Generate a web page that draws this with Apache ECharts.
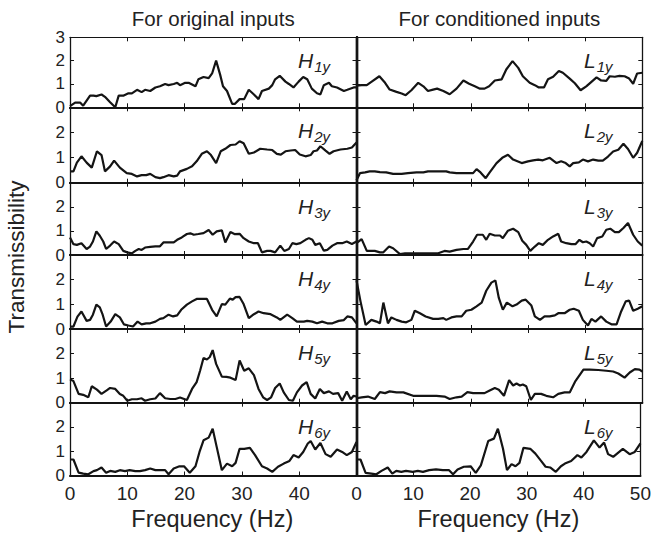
<!DOCTYPE html>
<html><head><meta charset="utf-8">
<script src="https://cdn.jsdelivr.net/npm/echarts@6/dist/echarts.min.js"></script>
<style>html,body{margin:0;padding:0;background:#fff}#c{width:654px;height:536px}</style>
</head><body><div id="c"></div>
<script>
// ---------- DATA (frequency in Hz, transmissibility) ----------
const xTicks = [0, 10, 20, 30, 40, 50];
const yTicks = [0, 1, 2, 3];
const colTitles = ['For original inputs', 'For conditioned inputs'];
const xTitle = 'Frequency (Hz)';
const yTitle = 'Transmissibility';

const h1F = [0,0.9,1.8,2.3,3.5,4.1,4.6,5.5,6.1,7.0,7.9,8.5,9.3,10.2,10.8,11.7,12.5,13.1,14,14.9,15.7,16.6,17.2,18.1,18.7,19.2,20.1,20.7,21.9,22.4,23.3,24.2,24.8,25.5,26.2,26.7,27.4,28.3,28.8,29.6,30.4,31.2,32.1,32.9,33.5,34.7,35.3,35.8,36.6,37.6,38.2,39,39.9,40.7,41.4,42.2,43.1,43.7,44.3,45.2,45.7,46.6,47.8,48.4,49.5,50];
const h1V = [0.05,0.2,0.2,0.07,0.5,0.5,0.48,0.55,0.45,0.22,0,0.5,0.5,0.6,0.6,0.75,0.65,0.75,0.7,0.85,0.9,1.0,0.95,1.0,1.05,0.95,1.05,1.05,0.9,1.2,1.3,1.25,1.45,2.0,1.4,0.9,0.7,0.15,0.15,0.35,0.35,0.75,0.55,0.35,0.7,0.8,0.95,1.2,1.35,1.1,1.0,0.85,1.1,1.3,1.2,0.8,0.6,0.55,0.95,1.05,0.9,0.85,0.7,0.75,0.85,0.85];

const h2F = [0,0.6,1.2,2.0,2.9,3.8,4.7,5.5,6.1,7.0,7.7,8.7,9.9,10.8,11.7,12.5,13.3,14.0,14.9,15.7,16.3,17.2,18.1,18.7,19.2,20.4,21.3,22.1,23.0,23.9,24.6,25.5,26.3,27.1,28.0,28.9,29.6,30.3,31.2,32.1,33.2,34.4,35.3,36.1,36.8,37.6,38.5,39.3,40.1,41.1,42.0,42.5,43.1,43.7,44.6,45.3,46.0,47.2,48.4,49.2,50];
const h2V = [0.45,0.45,0.8,1.05,0.8,0.6,1.25,1.1,0.45,0.65,0.88,0.6,0.38,0.35,0.25,0.3,0.3,0.35,0.22,0.18,0.22,0.3,0.25,0.28,0.45,0.55,0.65,0.85,1.15,1.25,1.1,0.78,1.25,1.35,1.5,1.52,1.65,1.57,1.15,1.2,1.35,1.32,1.3,1.15,1.12,1.25,1.28,1.3,1.12,1.05,1.1,1.25,1.28,1.45,1.28,1.15,1.25,1.32,1.35,1.4,1.6];

const h3F = [0,0.6,1.2,2.0,2.9,3.5,4.0,4.6,5.2,5.8,6.3,7.0,7.7,8.5,9.3,10.0,10.8,11.4,12.0,12.5,13.1,14.0,14.9,15.7,16.3,17.2,18.1,18.7,19.5,20.4,21.0,21.6,22.4,23.3,24.2,24.9,25.6,26.5,27.1,28.0,28.7,29.6,30.3,31.2,32.1,32.8,33.5,34.4,35.0,35.8,36.7,37.4,38.2,38.8,39.5,40.2,41.1,41.7,42.3,42.8,43.6,44.3,44.9,45.8,46.6,47.5,48.3,49.2,50];
const h3V = [0.73,0.45,0.42,0.49,0.25,0.35,0.56,0.98,0.8,0.56,0.25,0.39,0.56,0.45,0.17,0.11,0.07,0.17,0.25,0.21,0.31,0.34,0.36,0.36,0.52,0.52,0.52,0.63,0.73,0.87,0.9,0.84,0.87,0.91,1.04,0.84,0.98,1.02,0.52,0.95,0.87,0.88,0.7,0.56,0.49,0.49,0.11,0.17,0.17,0.11,0.39,0.17,0.25,0.49,0.45,0.49,0.63,0.7,0.63,0.42,0.49,0.18,0.21,0.39,0.49,0.49,0.56,0.46,0.56];

const h4F = [0,0.6,1.3,2.0,2.9,3.5,4.0,4.6,5.2,5.7,6.3,7.1,7.9,8.7,9.4,10.2,11.0,11.8,12.5,13.3,14.0,14.9,15.7,16.3,17.2,18.0,18.7,19.4,20.4,21.3,22.1,23.0,23.9,24.8,25.6,26.5,27.1,27.9,28.4,28.9,29.6,30.3,31.2,32.1,32.9,33.8,35.0,36.1,36.7,37.9,38.8,39.6,40.8,41.4,42.3,43.1,44.0,44.9,45.8,46.9,47.8,48.4,49.2,50];
const h4V = [0.1,0.1,0.5,0.71,0.33,0.37,0.58,0.99,0.88,0.58,0.1,0.3,0.6,0.47,0.19,0.14,0.1,0.3,0.19,0.23,0.23,0.3,0.41,0.44,0.58,0.51,0.55,0.78,0.99,1.12,1.22,1.22,1.22,0.78,0.51,1.01,0.99,1.23,1.19,1.29,1.3,1.01,0.44,0.6,0.71,0.64,0.6,0.47,0.37,0.58,0.44,0.3,0.3,0.33,0.3,0.23,0.3,0.23,0.23,0.33,0.36,0.51,0.47,0.23];

const h5F = [0,0.6,1.5,2.3,3.2,3.8,4.7,5.5,6.4,7.0,7.9,8.7,9.3,10.0,10.8,11.7,12.5,13.1,14.0,14.9,15.7,16.6,17.5,18.4,19.2,20.4,21.3,22.1,22.7,23.3,23.9,24.4,24.9,25.5,26.5,27.3,28.0,28.9,29.6,30.4,31.2,32.1,32.9,33.7,34.4,35.1,35.8,36.6,37.3,38.2,38.9,39.6,40.5,41.3,42.0,42.8,43.6,44.3,45.2,45.9,46.8,47.5,48.3,49.0,49.5,50];
const h5V = [0.95,0.88,0.36,0.32,0.22,0.67,0.53,0.36,0.5,0.6,0.56,0.35,0.28,0.08,0.14,0.14,0.18,0.08,0.14,0.17,0.39,0.18,0.15,0.15,0.21,0.11,0.56,0.84,1.3,1.82,1.76,1.86,2.14,1.58,1.06,1.05,1.02,0.92,1.72,1.3,1.4,1.12,0.56,0.22,0.11,0.22,0.6,0.78,0.42,0.11,0.08,0.42,0.7,0.84,0.36,0.17,0.56,0.39,0.46,0.36,0.39,0.08,0.46,0.14,0.28,0.25];

const h6F = [0,0.6,1.5,2.3,3.2,4.1,4.7,5.5,6.3,7.0,7.9,8.7,9.6,10.4,11.4,12.2,13.1,14.0,14.9,15.7,16.6,17.2,18.1,19.1,19.9,20.9,21.9,22.6,23.3,24.2,24.9,25.6,26.5,27.4,28.3,28.9,29.6,30.4,31.4,32.3,33.5,34.4,35.3,36.3,37.3,38.3,39.0,39.9,40.7,41.5,42.0,42.8,43.7,44.6,45.5,46.6,47.5,48.3,49.2,50];
const h6V = [0.66,0.66,0.12,0.08,0.05,0.18,0.22,0.33,0.11,0.19,0.15,0.22,0.18,0.22,0.18,0.18,0.22,0.29,0.22,0.22,0.22,0.05,0.29,0.38,0.38,0.11,0.38,0.97,1.45,1.56,1.93,1.18,0.22,0.49,0.38,0.52,1.1,1.1,1.14,0.84,0.38,0.29,0.15,0.36,0.49,0.6,0.84,0.74,0.97,1.32,1.42,1.07,1.34,0.88,0.77,1.07,0.97,0.84,0.97,1.38];

const l1F = [0,0.9,1.8,2.6,4.0,5.0,5.8,7.0,7.9,8.6,9.6,10.8,11.7,12.5,13.4,14.1,15.2,16.3,17.5,18.7,19.7,20.7,21.6,22.4,23.2,24.2,25.4,26.2,27.3,28.3,29.1,30.3,31.2,31.9,32.8,33.5,34.4,35.4,36.1,37.3,38.2,39.2,40.2,41.1,42.0,42.8,43.7,44.3,45.2,46.0,46.9,47.7,48.4,49.1,50];
const l1V = [0.93,0.95,0.95,1.09,1.33,1.05,0.76,0.66,0.59,0.52,0.73,1.05,0.9,0.7,0.76,0.8,0.7,0.56,0.8,1.15,1.01,0.9,0.8,0.8,0.9,1.15,1.2,1.62,1.98,1.69,1.33,1.05,0.95,0.85,0.85,1.2,1.31,1.56,1.48,1.23,1.03,0.73,0.9,1.09,1.28,1.15,1.13,1.33,1.31,1.35,1.33,1.23,1.01,1.45,1.48];

const l2F = [0,0.6,1.5,2.3,3.2,4.1,5.2,6.4,7.9,9.0,10.5,11.7,12.5,14.0,15.7,16.3,17.5,18.9,20.4,21.0,21.7,22.6,23.3,24.5,25.5,26.5,27.4,28.9,30.0,30.9,31.8,32.6,33.8,35.0,35.8,36.6,37.3,37.9,38.9,39.6,40.5,41.4,42.3,43.1,44.0,44.9,45.8,46.7,47.5,48.4,49.1,50];
const l2V = [0.1,0.38,0.41,0.45,0.45,0.42,0.41,0.35,0.35,0.38,0.41,0.41,0.45,0.45,0.45,0.41,0.38,0.38,0.38,0.54,0.41,0.18,0.41,0.78,0.99,1.11,0.92,0.78,0.85,0.89,0.92,0.89,0.99,0.78,0.85,0.78,0.65,0.78,0.81,0.92,0.85,0.92,0.88,0.88,1.04,1.24,1.31,1.55,1.34,0.99,1.19,1.66];

const l3F = [0,0.9,1.8,3.2,4.1,4.7,5.7,6.4,7.6,8.5,10.5,12.2,14.3,15.4,16.3,17.5,18.7,19.5,20.4,21.1,22.1,22.7,23.3,24.2,25.1,25.6,26.5,27.4,28.3,29.0,29.7,30.4,31.2,31.9,32.6,33.5,34.4,35.3,35.8,36.7,37.6,38.3,39.0,39.6,40.2,40.8,41.4,42.1,43.0,43.7,44.4,45.2,45.9,46.7,47.5,48.4,49.2,50];
const l3V = [0.49,0.66,0.17,0.17,0.11,0.11,0.35,0.28,0.04,0.07,0.07,0.07,0.07,0.17,0.14,0.21,0.25,0.25,0.56,0.84,0.84,0.63,0.88,0.81,0.81,0.7,1.01,1.09,0.95,0.59,0.42,0.17,0.35,0.49,0.42,0.63,0.77,0.88,0.56,0.49,0.45,0.45,0.63,0.53,0.56,0.49,0.35,0.7,0.77,1.05,1.09,0.95,0.95,1.12,1.33,0.84,0.56,0.39];

const l4F = [0,0.7,1.6,2.6,3.5,4.1,4.7,5.5,6.1,7.0,7.9,8.7,9.6,10.2,11.1,12.1,13.4,14.3,15.2,15.7,16.6,17.5,18.4,19.2,20.1,21.0,21.9,22.7,23.6,24.3,24.9,25.6,26.3,27.3,28.0,28.9,29.6,30.6,31.2,32.1,32.9,33.8,34.7,35.3,36.4,37.3,38.0,38.9,39.6,40.5,41.1,41.8,42.8,43.7,44.6,45.5,46.3,47.1,47.7,48.4,49.2,50];
const l4V = [1.97,1.12,0.16,0.37,0.3,0.23,1.07,0.23,0.47,0.37,0.3,0.27,0.37,0.74,0.64,0.51,0.41,0.41,0.44,0.37,0.47,0.51,0.51,0.74,0.78,0.92,1.07,1.55,1.88,1.97,1.26,0.78,1.07,0.92,0.99,1.15,1.19,0.95,0.51,0.37,0.51,0.51,0.55,0.64,0.64,0.78,0.82,0.74,0.37,0.14,0.41,0.3,0.51,0.3,0.19,0.19,0.71,1.12,1.15,0.74,0.82,0.92];

const l5F = [0,0.9,2.0,3.2,4.1,5.0,5.8,7.0,8.2,9.9,11.7,14.0,15.4,16.3,17.5,18.4,19.4,20.4,21.6,22.4,23.3,24.2,24.9,25.8,26.7,27.4,28.0,28.6,29.1,29.7,30.5,31.2,32.3,33.2,34.4,35.3,36.4,37.3,38.3,39.7,40.8,42.3,43.7,44.9,45.8,46.9,47.8,48.7,49.5,50];
const l5V = [0.18,0.22,0.25,0.15,0.43,0.39,0.46,0.42,0.42,0.28,0.28,0.28,0.25,0.15,0.22,0.25,0.43,0.39,0.39,0.39,0.5,0.6,0.53,0.28,0.92,0.7,0.78,0.7,0.74,0.67,0.11,0.36,0.36,0.28,0.22,0.36,0.42,0.42,0.88,1.35,1.35,1.33,1.3,1.27,1.19,1.02,1.23,1.37,1.35,1.27];

const l6F = [0,0.7,1.6,2.6,3.5,4.4,5.5,6.3,7.0,7.9,8.7,9.9,10.8,11.7,12.8,14.0,15.2,16.3,17.0,17.8,18.9,20.1,21.0,21.9,23.2,24.2,24.9,25.8,26.5,27.3,28.0,28.7,29.4,30.6,31.5,32.5,33.3,34.1,35.1,36.0,36.7,37.8,38.9,39.6,40.5,41.8,42.8,43.6,44.3,45.2,46.9,48.1,49.0,50];
const l6V = [0.66,0.66,0.11,0.08,0.05,0.19,0.33,0.08,0.19,0.15,0.19,0.15,0.19,0.15,0.22,0.25,0.22,0.22,0.05,0.25,0.36,0.38,0.11,0.42,1.42,1.52,1.93,1.1,0.22,0.47,0.38,0.52,1.14,1.1,0.9,0.6,0.36,0.33,0.15,0.38,0.49,0.6,0.84,0.74,0.97,1.45,1.15,1.36,0.88,0.77,1.1,0.88,0.97,1.32];

const leftPanels = [
  {sym:'H', sub:'1y', f:h1F, v:h1V}, {sym:'H', sub:'2y', f:h2F, v:h2V},
  {sym:'H', sub:'3y', f:h3F, v:h3V}, {sym:'H', sub:'4y', f:h4F, v:h4V},
  {sym:'H', sub:'5y', f:h5F, v:h5V}, {sym:'H', sub:'6y', f:h6F, v:h6V}
];
const rightPanels = [
  {sym:'L', sub:'1y', f:l1F, v:l1V}, {sym:'L', sub:'2y', f:l2F, v:l2V},
  {sym:'L', sub:'3y', f:l3F, v:l3V}, {sym:'L', sub:'4y', f:l4F, v:l4V},
  {sym:'L', sub:'5y', f:l5F, v:l5V}, {sym:'L', sub:'6y', f:l6F, v:l6V}
];

// ---------- LAYOUT ----------
const FONT = "'Liberation Sans', Arial, Helvetica, sans-serif";
const INK = '#141414';
const TXT = '#222';
const colLeft = [70, 356.5];
const colWidth = [286.5, 285.8];
const rowEdges = [37.3, 107.3, 182.7, 255, 329, 402.7, 475.5];
const labelX = [298, 584];

const grids = [], xAxes = [], yAxes = [], series = [], graphics = [];
[leftPanels, rightPanels].forEach((panels, col) => {
  panels.forEach((p, row) => {
    const gi = grids.length;
    const top = rowEdges[row], h = rowEdges[row + 1] - rowEdges[row];
    grids.push({left: colLeft[col], width: colWidth[col], top: top, height: h, show: false});
    const tick = {show: true, inside: true, length: 4, lineStyle: {color: INK, width: 1}};
    xAxes.push({
      gridIndex: gi, type: 'value', min: xTicks[0], max: xTicks[xTicks.length - 1],
      interval: xTicks[1] - xTicks[0], position: 'bottom',
      axisLine: {show: true, onZero: false, lineStyle: {color: INK, width: 2.2}},
      axisTick: tick, splitLine: {show: false},
      axisLabel: {show: row === 5, margin: 8, fontSize: 19, color: TXT, fontFamily: FONT,
                  showMaxLabel: col === 1, showMinLabel: true}
    });
    xAxes.push({
      gridIndex: gi, type: 'value', min: xTicks[0], max: xTicks[xTicks.length - 1],
      interval: xTicks[1] - xTicks[0], position: 'top',
      axisLine: {show: true, onZero: false, lineStyle: {color: INK, width: row === 0 ? 1.2 : 2.2}},
      axisTick: tick, splitLine: {show: false}, axisLabel: {show: false}
    });
    yAxes.push({
      gridIndex: gi, type: 'value', min: yTicks[0], max: yTicks[yTicks.length - 1],
      interval: yTicks[1] - yTicks[0], position: 'left',
      axisLine: {show: true, onZero: false, lineStyle: {color: INK, width: col === 0 ? 1.3 : 2.4}},
      axisTick: tick, splitLine: {show: false},
      axisLabel: {show: col === 0, margin: 5, fontSize: 17, color: TXT, fontFamily: FONT,
                  showMaxLabel: row === 0, showMinLabel: true}
    });
    yAxes.push({
      gridIndex: gi, type: 'value', min: yTicks[0], max: yTicks[yTicks.length - 1],
      interval: yTicks[1] - yTicks[0], position: 'right',
      axisLine: {show: true, onZero: false, lineStyle: {color: INK, width: col === 1 ? 1.3 : 2.4}},
      axisTick: tick, splitLine: {show: false}, axisLabel: {show: false}
    });
    series.push({
      type: 'line', xAxisIndex: 2 * gi, yAxisIndex: 2 * gi,
      data: p.f.map((x, i) => [x, p.v[i]]),
      symbol: 'none', showSymbol: false, clip: true,
      lineStyle: {color: INK, width: 2.2}, animation: false, silent: true
    });
    graphics.push({
      type: 'text', x: labelX[col], y: top + 10,
      style: {
        text: '{m|' + p.sym + '}{s|' + p.sub + '}',
        fill: TXT, align: 'left', verticalAlign: 'top', textAlign: 'left', textVerticalAlign: 'top',
        rich: {
          m: {fontSize: 21, fontStyle: 'italic', fontFamily: FONT, fill: TXT, color: TXT},
          s: {fontSize: 15, fontStyle: 'italic', fontFamily: FONT, fill: TXT, color: TXT, padding: [12, 0, 0, 1]}
        }
      }
    });
  });
});

const centers = colLeft.map((l, i) => l + colWidth[i] / 2);
colTitles.forEach((t, i) => graphics.push({
  type: 'text', x: centers[i], y: 18,
  style: {text: t, fontSize: 20.5, fontFamily: FONT, fill: TXT, align: 'center', verticalAlign: 'middle', textAlign: 'center', textVerticalAlign: 'middle'}
}));
centers.forEach(c => graphics.push({
  type: 'text', x: c - 1, y: 519,
  style: {text: xTitle, fontSize: 23.5, fontFamily: FONT, fill: TXT, align: 'center', verticalAlign: 'middle', textAlign: 'center', textVerticalAlign: 'middle'}
}));
graphics.push({
  type: 'text', x: 16, y: 257, rotation: Math.PI / 2,
  style: {text: yTitle, fontSize: 22.5, fontFamily: FONT, fill: TXT, align: 'center', verticalAlign: 'middle', textAlign: 'center', textVerticalAlign: 'middle'}
});

const chart = echarts.init(document.getElementById('c'), null, {renderer: 'svg'});
chart.setOption({
  animation: false, backgroundColor: '#fff',
  grid: grids, xAxis: xAxes, yAxis: yAxes, series: series, graphic: graphics
});
</script></body></html>
